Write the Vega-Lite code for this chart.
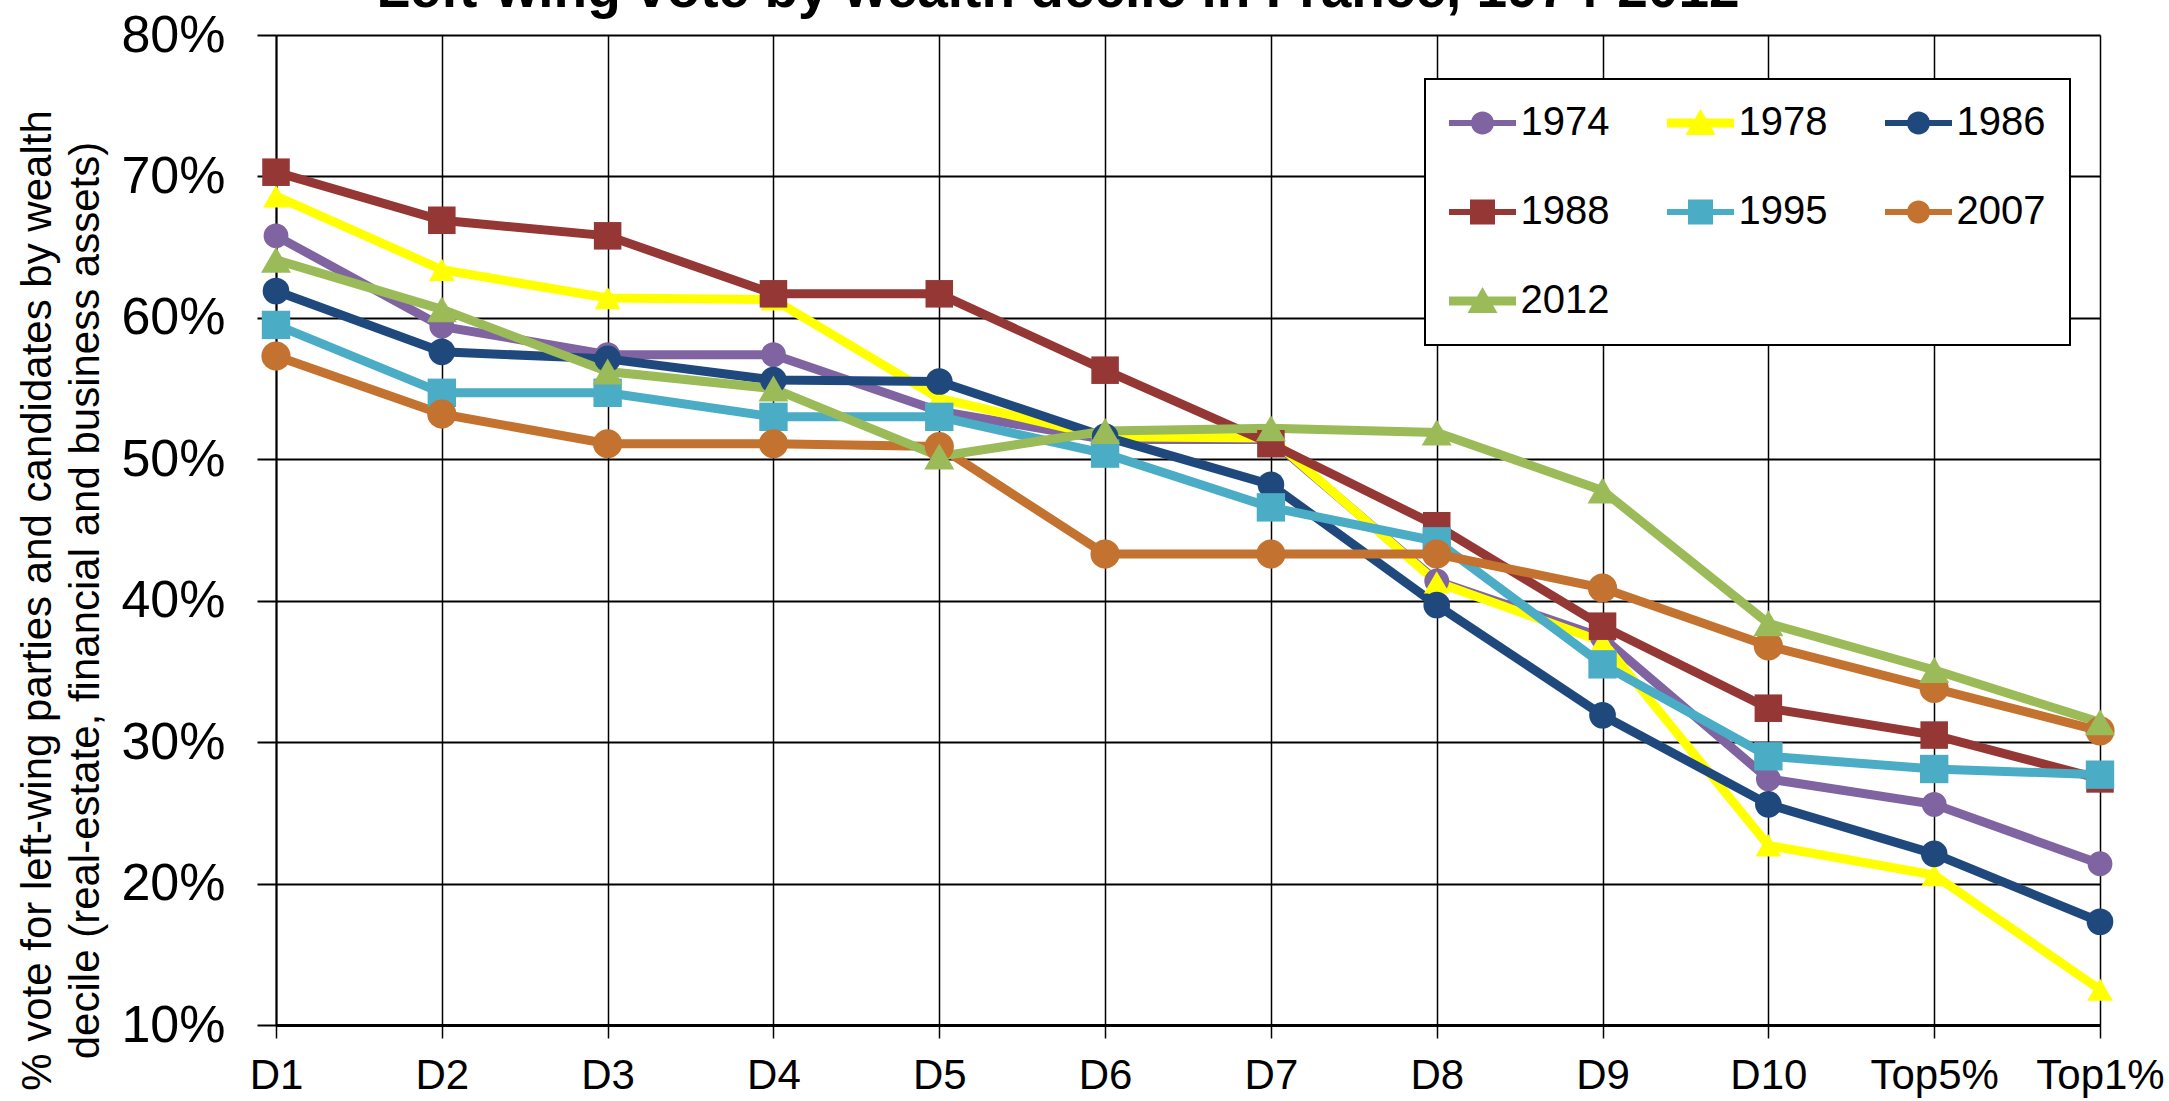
{
  "$schema": "https://vega.github.io/schema/vega-lite/v6.json",
  "width": 1824,
  "height": 990,
  "autosize": {"type": "none"},
  "padding": {"left": 276, "top": 35, "right": 69, "bottom": 76},
  "background": "white",
  "title": {
    "text": "Left-wing vote by wealth decile in France, 1974-2012",
    "fontSize": 55,
    "fontWeight": "bold",
    "font": "Liberation Sans",
    "color": "black",
    "anchor": "middle",
    "baseline": "alphabetic",
    "offset": 0,
    "dy": 53,
    "dx": -130
  },
  "data": {
    "values": [
      {"year": "1974", "decile": "D1", "v": 65.8}, {"year": "1974", "decile": "D2", "v": 59.4}, {"year": "1974", "decile": "D3", "v": 57.4}, {"year": "1974", "decile": "D4", "v": 57.4}, {"year": "1974", "decile": "D5", "v": 53.4}, {"year": "1974", "decile": "D6", "v": 51.4}, {"year": "1974", "decile": "D7", "v": 51.4}, {"year": "1974", "decile": "D8", "v": 41.4}, {"year": "1974", "decile": "D9", "v": 37.4}, {"year": "1974", "decile": "D10", "v": 27.4}, {"year": "1974", "decile": "Top5%", "v": 25.6}, {"year": "1974", "decile": "Top1%", "v": 21.4},
      {"year": "1978", "decile": "D1", "v": 68.6}, {"year": "1978", "decile": "D2", "v": 63.4}, {"year": "1978", "decile": "D3", "v": 61.4}, {"year": "1978", "decile": "D4", "v": 61.3}, {"year": "1978", "decile": "D5", "v": 54.3}, {"year": "1978", "decile": "D6", "v": 51.6}, {"year": "1978", "decile": "D7", "v": 51.5}, {"year": "1978", "decile": "D8", "v": 41.3}, {"year": "1978", "decile": "D9", "v": 37.1}, {"year": "1978", "decile": "D10", "v": 22.7}, {"year": "1978", "decile": "Top5%", "v": 20.6}, {"year": "1978", "decile": "Top1%", "v": 12.5},
      {"year": "1986", "decile": "D1", "v": 61.9}, {"year": "1986", "decile": "D2", "v": 57.6}, {"year": "1986", "decile": "D3", "v": 57.1}, {"year": "1986", "decile": "D4", "v": 55.6}, {"year": "1986", "decile": "D5", "v": 55.5}, {"year": "1986", "decile": "D6", "v": 51.6}, {"year": "1986", "decile": "D7", "v": 48.2}, {"year": "1986", "decile": "D8", "v": 39.7}, {"year": "1986", "decile": "D9", "v": 31.9}, {"year": "1986", "decile": "D10", "v": 25.6}, {"year": "1986", "decile": "Top5%", "v": 22.1}, {"year": "1986", "decile": "Top1%", "v": 17.3},
      {"year": "1988", "decile": "D1", "v": 70.3}, {"year": "1988", "decile": "D2", "v": 66.9}, {"year": "1988", "decile": "D3", "v": 65.8}, {"year": "1988", "decile": "D4", "v": 61.7}, {"year": "1988", "decile": "D5", "v": 61.7}, {"year": "1988", "decile": "D6", "v": 56.3}, {"year": "1988", "decile": "D7", "v": 51.1}, {"year": "1988", "decile": "D8", "v": 45.3}, {"year": "1988", "decile": "D9", "v": 38.2}, {"year": "1988", "decile": "D10", "v": 32.4}, {"year": "1988", "decile": "Top5%", "v": 30.5}, {"year": "1988", "decile": "Top1%", "v": 27.4},
      {"year": "1995", "decile": "D1", "v": 59.5}, {"year": "1995", "decile": "D2", "v": 54.7}, {"year": "1995", "decile": "D3", "v": 54.7}, {"year": "1995", "decile": "D4", "v": 53.0}, {"year": "1995", "decile": "D5", "v": 53.0}, {"year": "1995", "decile": "D6", "v": 50.4}, {"year": "1995", "decile": "D7", "v": 46.6}, {"year": "1995", "decile": "D8", "v": 44.2}, {"year": "1995", "decile": "D9", "v": 35.5}, {"year": "1995", "decile": "D10", "v": 29.0}, {"year": "1995", "decile": "Top5%", "v": 28.1}, {"year": "1995", "decile": "Top1%", "v": 27.7},
      {"year": "2007", "decile": "D1", "v": 57.3}, {"year": "2007", "decile": "D2", "v": 53.2}, {"year": "2007", "decile": "D3", "v": 51.1}, {"year": "2007", "decile": "D4", "v": 51.1}, {"year": "2007", "decile": "D5", "v": 50.9}, {"year": "2007", "decile": "D6", "v": 43.3}, {"year": "2007", "decile": "D7", "v": 43.3}, {"year": "2007", "decile": "D8", "v": 43.3}, {"year": "2007", "decile": "D9", "v": 40.9}, {"year": "2007", "decile": "D10", "v": 36.8}, {"year": "2007", "decile": "Top5%", "v": 33.8}, {"year": "2007", "decile": "Top1%", "v": 30.8},
      {"year": "2012", "decile": "D1", "v": 64.1}, {"year": "2012", "decile": "D2", "v": 60.6}, {"year": "2012", "decile": "D3", "v": 56.2}, {"year": "2012", "decile": "D4", "v": 55.0}, {"year": "2012", "decile": "D5", "v": 50.2}, {"year": "2012", "decile": "D6", "v": 52.0}, {"year": "2012", "decile": "D7", "v": 52.2}, {"year": "2012", "decile": "D8", "v": 51.9}, {"year": "2012", "decile": "D9", "v": 47.8}, {"year": "2012", "decile": "D10", "v": 38.4}, {"year": "2012", "decile": "Top5%", "v": 35.1}, {"year": "2012", "decile": "Top1%", "v": 31.4}
    ]
  },
  "encoding": {
    "x": {
      "field": "decile",
      "type": "ordinal",
      "sort": ["D1", "D2", "D3", "D4", "D5", "D6", "D7", "D8", "D9", "D10", "Top5%", "Top1%"],
      "scale": {"type": "point", "padding": 0},
      "axis": {
        "title": null,
        "labelAngle": 0,
        "labelFont": "Liberation Sans",
        "labelFontSize": 42,
        "labelColor": "black",
        "labelPadding": 17,
        "tickSize": 13,
        "tickColor": "black",
        "tickWidth": 1.5,
        "domainColor": "black",
        "domainWidth": 3,
        "grid": true,
        "gridColor": "black",
        "gridWidth": 1.5
      }
    },
    "y": {
      "field": "v",
      "type": "quantitative",
      "scale": {"domain": [10, 80], "nice": false, "zero": false},
      "axis": {
        "values": [10, 20, 30, 40, 50, 60, 70, 80],
        "labelExpr": "datum.value + '%'",
        "labelFont": "Liberation Sans",
        "labelFontSize": 52,
        "labelColor": "black",
        "labelPadding": 32,
        "tickSize": 19,
        "tickColor": "black",
        "tickWidth": 2,
        "domainColor": "black",
        "domainWidth": 2,
        "grid": true,
        "gridColor": "black",
        "gridWidth": 2,
        "title": ["% vote for left-wing parties and candidates by wealth", "decile (real-estate, financial and business assets)"],
        "titleFont": "Liberation Sans",
        "titleFontSize": 42,
        "titleFontWeight": "normal",
        "titleColor": "black",
        "titleAngle": 270,
        "titleAlign": "center",
        "titleBaseline": "alphabetic",
        "titleLineHeight": 48,
        "titleX": -226,
        "titleY": 565
      }
    },
    "color": {
      "field": "year",
      "type": "nominal",
      "scale": {
        "domain": ["1974", "1978", "1986", "1988", "1995", "2007", "2012"],
        "range": ["#8064A2", "#FFFF00", "#1F497D", "#953735", "#4BACC6", "#C3722F", "#9BBB59"]
      },
      "legend": {
        "title": null,
        "orient": "none",
        "legendX": 1149,
        "legendY": 44,
        "direction": "horizontal",
        "columns": 3,
        "labelFont": "Liberation Sans",
        "labelFontSize": 40,
        "labelColor": "black",
        "labelOffset": 18,
        "symbolOffset": 13.5,
        "symbolSize": 1600,
        "symbolStrokeWidth": 0,
        "columnPadding": 57,
        "rowPadding": 49,
        "padding": 24,
        "strokeColor": "black",
        "fillColor": "white",
        "encode": {
          "legend": {"update": {"strokeWidth": {"value": 2}}},
          "symbols": {
            "update": {
              "shape": {"signal": "(datum.value == '1978' || datum.value == '2012') ? 'M-1.675,-0.225L1.675,-0.225L1.675,0.225L-1.675,0.225Z M0,-0.7L0.75,0.6L-0.75,0.6Z' : (datum.value == '1988' || datum.value == '1995') ? 'M-1.675,-0.15L1.675,-0.15L1.675,0.15L-1.675,0.15Z M-0.625,-0.625L0.625,-0.625L0.625,0.625L-0.625,0.625Z' : 'M-1.675,-0.15L1.675,-0.15L1.675,0.15L-1.675,0.15Z M0.575,0C0.575,0.3176,0.3176,0.575,0,0.575C-0.3176,0.575,-0.575,0.3176,-0.575,0C-0.575,-0.3176,-0.3176,-0.575,0,-0.575C0.3176,-0.575,0.575,-0.3176,0.575,0Z'"},
              "fill": {"signal": "scale('color', datum.value)"},
              "stroke": {"value": "transparent"},
              "strokeWidth": {"value": 0},
              "size": {"value": 1600},
              "opacity": {"value": 1}
            }
          }
        }
      }
    }
  },
  "layer": [
    {
      "mark": {"type": "line"},
      "encoding": {
        "strokeWidth": {
          "field": "year",
          "type": "ordinal",
          "scale": {"domain": ["1978", "2012", "1974", "1986", "1988", "1995", "2007"], "range": [9, 9, 6, 6, 6, 6, 6]},
          "legend": null
        }
      }
    },
    {
      "mark": {"type": "point", "filled": true, "opacity": 1, "strokeWidth": 0},
      "encoding": {
        "shape": {
          "field": "year",
          "type": "nominal",
          "scale": {"domain": ["1974", "1986", "2007", "1988", "1995", "1978", "2012"], "range": ["circle", "circle", "circle", "square", "square", "triangle-up", "triangle-up"]},
          "legend": null
        },
        "size": {
          "field": "year",
          "type": "ordinal",
          "scale": {"domain": ["2012", "2007", "1995", "1988", "1986", "1978", "1974"], "range": [900, 616, 576, 576, 616, 900, 616]},
          "legend": null
        }
      }
    }
  ],
  "config": {
    "view": {"stroke": null}
  }
}
